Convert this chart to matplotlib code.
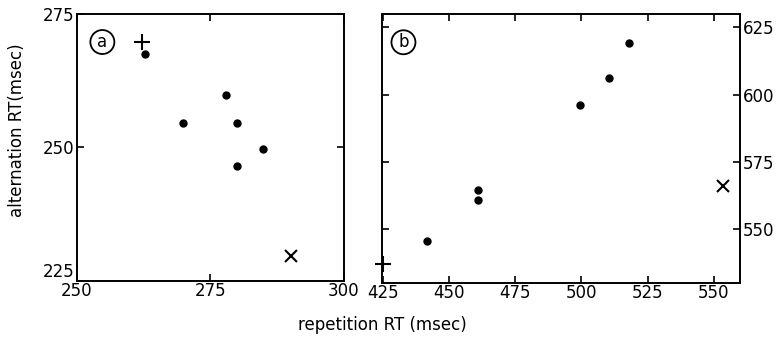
import matplotlib
matplotlib.use("Agg")
from matplotlib import pyplot as plt

# panel a data (repetition RT, alternation RT)
a_dots_x = [262.7, 277.9, 269.9, 280.0, 284.9, 279.9]
a_dots_y = [267.5, 259.8, 254.6, 254.6, 249.7, 246.6]
a_plus = (262.2, 269.8)
a_cross = (290.1, 229.6)

# panel b data
b_dots_x = [441.6, 460.9, 460.9, 499.4, 510.6, 518.1]
b_dots_y = [545.7, 564.5, 560.8, 596.3, 606.2, 619.4]
b_plus = (425.0, 537.0)
b_cross = (553.4, 565.9)

a_xticks = [250, 275, 300]
a_yticks = [225, 250, 275]
b_xticks = [425, 450, 475, 500, 525, 550]
b_yticks = [550, 575, 600, 625]

plt.rcParams['font.family'] = 'DejaVu Sans'
fig = plt.figure(figsize=(7.77, 3.37), dpi=100)

ax1 = fig.add_axes([0.0991, 0.1662, 0.3436, 0.7923])
ax2 = fig.add_axes([0.4916, 0.1602, 0.4608, 0.7982])

# panel a
ax1.plot(a_dots_x, a_dots_y, 'o', color='black', markersize=5)
ax1.plot(*a_plus, marker='+', color='black', markersize=12, markeredgewidth=1.5)
ax1.plot(*a_cross, marker='x', color='black', markersize=9, markeredgewidth=1.5)
ax1.set_xlim(250, 300)
ax1.set_ylim(225, 275)
ax1.set_xticks(a_xticks)
ax1.set_yticks(a_yticks)
ax1.tick_params(direction='in', top=True, right=True, length=5, width=1.2,
                labelsize=12, pad=2)
ax1.tick_params(axis='x', pad=1)
# lift the bottom y label so it clears the 250 below the corner
ax1.yaxis.get_major_ticks()[0].label1.set_va('bottom')
ax1.text(0.095, 0.895, 'a', transform=ax1.transAxes, fontsize=12,
         ha='center', va='center',
         bbox=dict(boxstyle='circle,pad=0.18', fc='white', ec='black', lw=1.3))

# panel b
ax2.plot(b_dots_x, b_dots_y, 'o', color='black', markersize=5)
ax2.plot(*b_plus, marker='+', color='black', markersize=12, markeredgewidth=1.5,
         clip_on=False)
ax2.plot(*b_cross, marker='x', color='black', markersize=9, markeredgewidth=1.5)
ax2.set_xlim(424.5, 560)
ax2.set_ylim(530, 630)
ax2.set_xticks(b_xticks)
ax2.set_yticks(b_yticks)
ax2.yaxis.tick_right()
ax2.tick_params(direction='in', top=True, left=True, right=True, length=5,
                width=1.2, labelsize=12, pad=2)
ax2.tick_params(axis='x', pad=1)
ax2.tick_params(axis='y', labelleft=False, labelright=True)
ax2.text(0.06, 0.895, 'b', transform=ax2.transAxes, fontsize=12,
         ha='center', va='center',
         bbox=dict(boxstyle='circle,pad=0.18', fc='white', ec='black', lw=1.3))

for ax in (ax1, ax2):
    for s in ax.spines.values():
        s.set_linewidth(1.4)

fig.text(0.492, 0.035, 'repetition RT (msec)', ha='center', va='center', fontsize=12)
fig.text(0.022, 0.615, 'alternation RT(msec)', ha='center', va='center',
         rotation=90, fontsize=12)

fig.savefig('out.png', dpi=100)
